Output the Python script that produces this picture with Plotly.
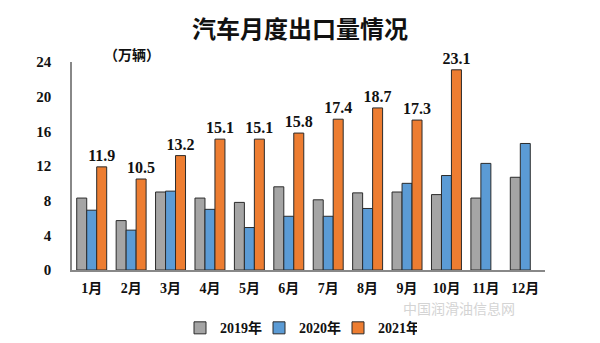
import plotly.graph_objects as go

months = ["1月", "2月", "3月", "4月", "5月", "6月", "7月", "8月", "9月", "10月", "11月", "12月"]
v2019 = [8.3, 5.7, 9.0, 8.3, 7.8, 9.6, 8.1, 8.9, 9.0, 8.7, 8.3, 10.7]
v2020 = [6.9, 4.6, 9.1, 7.0, 4.9, 6.2, 6.2, 7.1, 10.0, 10.9, 12.3, 14.6]
v2021 = [11.9, 10.5, 13.2, 15.1, 15.1, 15.8, 17.4, 18.7, 17.3, 23.1, None, None]
series_names = ["2019年", "2020年", "2021年"]
y_ticks = [0, 4, 8, 12, 16, 20, 24]

colors = ["#A5A5A5", "#5B9BD5", "#ED7D31"]
outline = dict(color="#2b2b2b", width=1)
label_font = "Liberation Serif, Noto Sans CJK SC, serif"

fig = go.Figure()
fig.add_trace(go.Bar(x=months, y=v2019, name="<b>" + series_names[0] + "</b>",
                     marker=dict(color=colors[0], line=outline)))
fig.add_trace(go.Bar(x=months, y=v2020, name="<b>" + series_names[1] + "</b>",
                     marker=dict(color=colors[1], line=outline)))
fig.add_trace(go.Bar(x=months, y=v2021, name="<b>" + series_names[2] + "</b>",
                     marker=dict(color=colors[2], line=outline),
                     text=[("<b>%.1f</b>" % v) if v is not None else "" for v in v2021],
                     textposition="outside", constraintext="none",
                     textfont=dict(family=label_font, size=16, color="#111111"),
                     cliponaxis=False))

fig.update_layout(
    width=600, height=343,
    margin=dict(l=72, r=55, t=62, b=73, autoexpand=False),
    paper_bgcolor="white", plot_bgcolor="white",
    barmode="group", bargap=0.24, bargroupgap=0,
    title=dict(text="<b>汽车月度出口量情况</b>", x=0.5, xanchor="center",
               y=1 - 30 / 343, yanchor="middle",
               font=dict(family="Noto Sans CJK SC", size=24, color="#111111")),
    showlegend=True,
    legend=dict(orientation="h", x=(180 - 72) / 473, xanchor="left", y=-0.28, yanchor="middle",
                font=dict(family=label_font, size=14, color="#111111"),
                itemwidth=30, entrywidth=34, entrywidthmode="pixels",
                traceorder="normal", tracegroupgap=0),
    xaxis=dict(showline=True, linecolor="#888888", linewidth=1.5, ticks="",
               tickmode="array", tickvals=months, ticktext=["<b>%s</b>" % m for m in months],
               tickfont=dict(family=label_font, size=14, color="#111111"),
               ticklabelstandoff=4, showgrid=False),
    yaxis=dict(range=[0, 24], tickvals=y_ticks, ticktext=["<b>%d</b>" % t for t in y_ticks],
               showline=True, linecolor="#888888",
               linewidth=1.5, ticks="", showgrid=False, zeroline=False,
               tickfont=dict(family=label_font, size=15, color="#111111"),
               ticklabelstandoff=16),
    annotations=[
        dict(text="<b>（万辆）</b>", xref="paper", yref="paper",
             x=(102 - 72) / 473, y=1 + (62 - 42) / 208, showarrow=False,
             font=dict(family="Noto Sans CJK SC", size=14, color="#111111")),
        dict(text="中国润滑油信息网", xref="paper", yref="paper",
             x=(517 - 72) / 473, y=(270 - 320) / 208, showarrow=False,
             font=dict(family="Noto Sans CJK SC", size=14, color="#d4d4d4")),
    ],
)

fig.write_html("out.html")
